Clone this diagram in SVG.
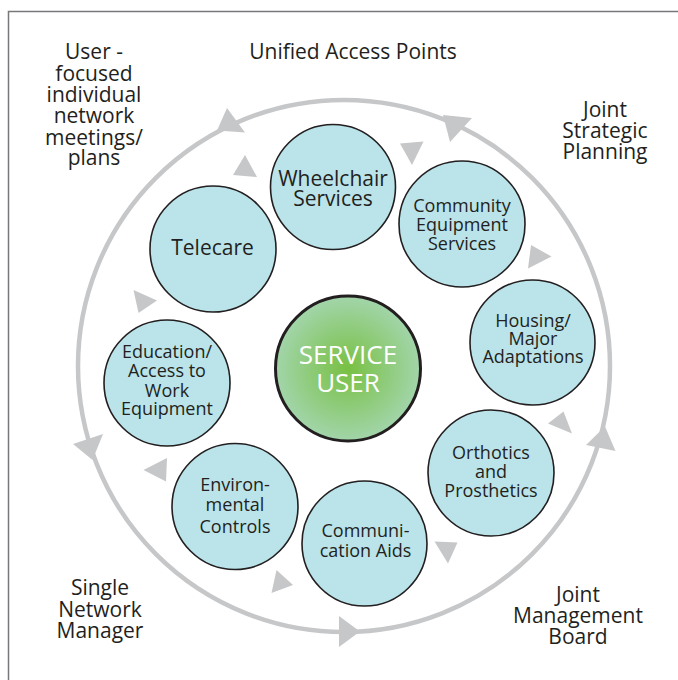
<svg xmlns="http://www.w3.org/2000/svg" width="678" height="680" viewBox="0 0 678 680">
<defs>
<radialGradient id="gsu" cx="0.5" cy="0.5" r="0.5">
<stop offset="0" stop-color="#78c043"/>
<stop offset="1" stop-color="#a2d5aa"/>
</radialGradient>
<style>
text{font-family:"Open Sans","Liberation Sans",sans-serif;fill:#231f20;text-anchor:middle}
.lbl{font-size:21px}
.big{font-size:21px}
.sm{font-size:18px}
.su{font-size:26px;fill:#ffffff}
.node{fill:#bae4ea;stroke:#231f20;stroke-width:1.6}
.ar{fill:#c6c7c9;stroke:none}
.ring{fill:none;stroke:#c6c7c9;stroke-width:4.5}
</style>
</defs>
<rect width="678" height="680" fill="#ffffff"/>
<path d="M8.5,680 V11.5 H678" fill="none" stroke="#77787b" stroke-width="1.5"/>

<g id="labels">
<text class="lbl" x="94" y="59">User -</text>
<text class="lbl" x="94" y="80.5">focused</text>
<text class="lbl" x="94" y="102">individual</text>
<text class="lbl" x="94" y="123">network</text>
<text class="lbl" x="94" y="144.5">meetings/</text>
<text class="lbl" x="94" y="165">plans</text>
<text class="lbl" x="353" y="59">Unified Access Points</text>
<text class="lbl" x="605" y="117">Joint</text>
<text class="lbl" x="605" y="138">Strategic</text>
<text class="lbl" x="605" y="159">Planning</text>
<text class="lbl" x="100" y="595">Single</text>
<text class="lbl" x="100" y="616.5">Network</text>
<text class="lbl" x="100" y="637.5">Manager</text>
<text class="lbl" x="578" y="601.5">Joint</text>
<text class="lbl" x="578" y="623">Management</text>
<text class="lbl" x="578" y="644">Board</text>
</g>

<g id="connectors">
<circle class="ring" cx="344" cy="366" r="266"/>
<polygon class="ar" points="227,108 217,130.5 245,132.5"/>
<polygon class="ar" points="443,115 472,118 450,142"/>
<polygon class="ar" points="605,426.5 586,445 615.5,451"/>
<polygon class="ar" points="339,616 360,631.5 339,647"/>
<polygon class="ar" points="73,444 103,434 92.5,460"/>
<polygon class="ar" points="245,155 233,175 257,177"/>
<polygon class="ar" points="400,143.5 423.5,141.5 412,165"/>
<polygon class="ar" points="531,245 551.5,256.5 528,268.5"/>
<polygon class="ar" points="563.5,411.5 548,423.5 572,433.5"/>
<polygon class="ar" points="434.5,541.5 457.5,542.5 448,563.5"/>
<polygon class="ar" points="276.5,570 293,585 271.5,593"/>
<polygon class="ar" points="167,458 143.5,470 166,481.5"/>
<polygon class="ar" points="133.5,290 157,300.5 138.5,313"/>
</g>

<g id="wheelchair">
<circle class="node" cx="333" cy="187" r="62.5"/>
<text class="big" x="333" y="186">Wheelchair</text>
<text class="big" x="333" y="206">Services</text>
</g>
<g id="telecare">
<circle class="node" cx="213" cy="249" r="63"/>
<text class="big" x="212.5" y="255">Telecare</text>
</g>
<g id="community">
<circle class="node" cx="462" cy="224" r="63"/>
<text class="sm" x="462" y="212">Community</text>
<text class="sm" x="462" y="231">Equipment</text>
<text class="sm" x="462" y="250">Services</text>
</g>
<g id="housing">
<circle class="node" cx="532.5" cy="342.5" r="62.5"/>
<text class="sm" x="533" y="327">Housing/</text>
<text class="sm" x="533" y="345">Major</text>
<text class="sm" x="533" y="363">Adaptations</text>
</g>
<g id="orthotics">
<circle class="node" cx="491" cy="473" r="63"/>
<text class="sm" x="491" y="459">Orthotics</text>
<text class="sm" x="491" y="478">and</text>
<text class="sm" x="491" y="497">Prosthetics</text>
</g>
<g id="communication">
<circle class="node" cx="364.5" cy="543.5" r="62.5"/>
<text class="sm" x="365.5" y="537">Communi-</text>
<text class="sm" x="365.5" y="557">cation Aids</text>
</g>
<g id="environmental">
<circle class="node" cx="235" cy="506.5" r="63"/>
<text class="sm" x="235" y="491">Environ-</text>
<text class="sm" x="235" y="511">mental</text>
<text class="sm" x="235" y="533">Controls</text>
</g>
<g id="education">
<circle class="node" cx="167" cy="383" r="63"/>
<text class="sm" x="167" y="358">Education/</text>
<text class="sm" x="167" y="377">Access to</text>
<text class="sm" x="167" y="397">Work</text>
<text class="sm" x="167" y="415">Equipment</text>
</g>
<g id="service-user">
<circle cx="348" cy="368.5" r="72.5" fill="url(#gsu)" stroke="#231f20" stroke-width="3"/>
<text class="su" x="348" y="364">SERVICE</text>
<text class="su" x="348" y="392">USER</text>
</g>
</svg>
